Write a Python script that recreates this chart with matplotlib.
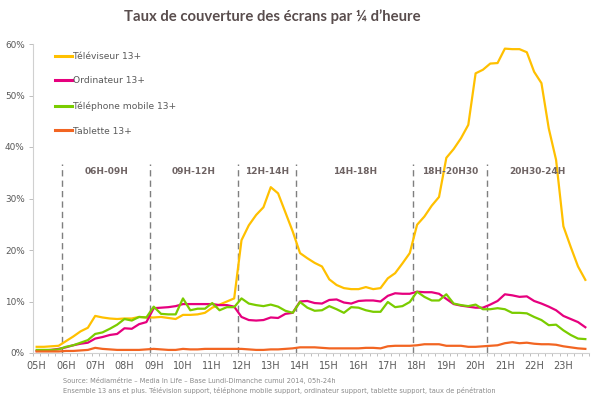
import numpy as np
import matplotlib
matplotlib.use("Agg")
import matplotlib.pyplot as plt
from matplotlib.ticker import FixedLocator, FuncFormatter

# ---------------- data ----------------
hour_labels = ["05H", "06H", "07H", "08H", "09H", "10H", "11H", "12H", "13H",
               "14H", "15H", "16H", "17H", "18H", "19H", "20H", "21H", "22H", "23H"]
quarters = [f"{h:02d}:{m:02d}" for h in range(5, 24) for m in (0, 15, 30, 45)]

tv = [1.2, 1.2, 1.3, 1.4, 2.3, 3.2, 4.2, 4.9, 7.2, 6.9, 6.7, 6.6, 6.7, 6.7, 7.0, 6.9,
      6.9, 7.0, 6.8, 6.6, 7.4, 7.4, 7.5, 7.8, 8.8, 9.4, 10.0, 10.6, 21.9, 24.8, 26.8, 28.3,
      32.2, 31.0, 27.3, 23.6, 19.4, 18.4, 17.5, 16.8, 14.3, 13.2, 12.6, 12.4, 12.4, 12.8, 12.4, 12.6,
      14.5, 15.5, 17.4, 19.4, 24.9, 26.5, 28.6, 30.3, 37.9, 39.6, 41.7, 44.3, 54.3, 55.0, 56.2, 56.3,
      59.1, 59.0, 59.0, 58.4, 54.6, 52.4, 43.6, 37.5, 24.6, 20.6, 16.8, 14.2]
ordi = [0.4, 0.5, 0.6, 0.8, 1.1, 1.5, 1.8, 2.0, 2.8, 3.1, 3.5, 3.7, 4.8, 4.7, 5.6, 6.0,
        8.7, 8.8, 8.9, 9.1, 9.5, 9.5, 9.5, 9.5, 9.5, 9.3, 9.3, 9.0, 7.0, 6.4, 6.3, 6.4,
        6.9, 6.8, 7.6, 7.8, 10.0, 10.1, 9.7, 9.6, 10.3, 10.4, 9.8, 9.6, 10.1, 10.2, 10.2, 10.0,
        11.1, 11.6, 11.5, 11.5, 11.9, 11.8, 11.8, 11.5, 10.5, 9.5, 9.2, 9.0, 8.8, 8.8, 9.4, 10.1,
        11.4, 11.2, 10.9, 11.0, 10.1, 9.6, 9.0, 8.3, 7.2, 6.6, 6.0, 5.0]
mobile = [0.6, 0.6, 0.6, 0.7, 1.2, 1.5, 2.0, 2.5, 3.7, 4.0, 4.7, 5.5, 6.6, 6.3, 7.0, 6.9,
          9.0, 7.6, 7.5, 7.5, 10.6, 8.3, 8.6, 8.6, 9.7, 8.3, 8.9, 8.9, 10.6, 9.6, 9.3, 9.1,
          9.4, 9.0, 8.2, 7.8, 9.9, 8.8, 8.2, 8.3, 9.1, 8.5, 7.8, 8.9, 8.8, 8.3, 8.0, 8.0,
          9.9, 8.9, 9.1, 9.9, 11.9, 10.9, 10.2, 10.2, 11.4, 9.6, 9.3, 9.1, 9.4, 8.5, 8.5, 8.7,
          8.5, 7.8, 7.8, 7.7, 7.0, 6.4, 5.4, 5.5, 4.4, 3.5, 2.8, 2.7]
tablette = [0.3, 0.3, 0.3, 0.3, 0.4, 0.4, 0.5, 0.6, 1.0, 0.8, 0.7, 0.6, 0.6, 0.6, 0.6, 0.7,
            0.8, 0.7, 0.6, 0.6, 0.8, 0.7, 0.7, 0.8, 0.8, 0.8, 0.8, 0.8, 0.8, 0.7, 0.6, 0.6,
            0.7, 0.7, 0.8, 0.9, 1.1, 1.1, 1.1, 1.0, 0.9, 0.9, 0.9, 0.9, 0.9, 1.0, 1.0, 0.9,
            1.3, 1.4, 1.4, 1.4, 1.5, 1.7, 1.7, 1.7, 1.4, 1.4, 1.4, 1.2, 1.2, 1.3, 1.4, 1.5,
            1.9, 2.1, 1.9, 2.0, 1.8, 1.7, 1.7, 1.6, 1.3, 1.1, 0.9, 0.8]

series_names = ["Téléviseur 13+", "Ordinateur 13+", "Téléphone mobile 13+", "Tablette 13+"]
series_colors = ["#FFC000", "#E6007E", "#7ACC00", "#F26522"]

period_labels = ["06H-09H", "09H-12H", "12H-14H", "14H-18H", "18H-20H30", "20H30-24H"]
period_bounds_h = [6, 9, 12, 14, 18, 20.5, 24]

yticks = [0, 10, 20, 30, 40, 50, 60]

title = "Taux de couverture des écrans par ¼ d’heure"
source_lines = [
    "Source: Médiamétrie – Media In Life – Base Lundi-Dimanche cumul 2014, 05h-24h",
    "Ensemble 13 ans et plus. Télévision support, téléphone mobile support, ordinateur support, tablette support, taux de pénétration",
]

# ---------------- figure ----------------
fig = plt.figure(figsize=(5.95, 4.04), dpi=100)
ax = fig.add_axes([33/595, 1-353/404, 556/595, 309/404])

x = np.arange(len(quarters))
for vals, name, col in zip([tv, ordi, mobile, tablette], series_names, series_colors):
    ax.plot(x, vals, color=col, lw=1.6, label=name)

ax.set_xlim(-0.5, len(quarters) - 0.5)
ax.set_ylim(0, 60)

# period separators and labels
def h2i(h):
    return (h - 5) * 4 - 0.5

grey_dash = "#7F7F7F"
for b in period_bounds_h[:-1]:
    ax.plot([h2i(b), h2i(b)], [0, 36.7], color=grey_dash, lw=1.0,
            dashes=(4.5, 3), zorder=1)
for i, lab in enumerate(period_labels):
    xm = (h2i(period_bounds_h[i]) + h2i(period_bounds_h[i + 1])) / 2
    ax.text(xm, 35.3, lab, ha="center", va="center", fontsize=6.5,
            fontweight="bold", color="#6E6363")

# axes styling
for s in ["top", "right"]:
    ax.spines[s].set_visible(False)
for s in ["left", "bottom"]:
    ax.spines[s].set_color("#D0D0D0")
    ax.spines[s].set_linewidth(0.8)

ax.set_yticks(yticks)
ax.yaxis.set_major_formatter(FuncFormatter(lambda v, p: f"{int(v)}%"))
ax.tick_params(axis="y", length=3, width=0.7, color="#BFBFBF", labelsize=6.4,
               labelcolor="#595959", pad=3)

hour_pos = [quarters.index(f"{h[:2]}:00") for h in hour_labels]
ax.set_xticks(hour_pos)
ax.set_xticklabels(hour_labels)
ax.xaxis.set_minor_locator(FixedLocator(np.arange(-0.5, len(quarters), 1.0)))
ax.tick_params(axis="x", which="major", length=0, labelsize=7.0,
               labelcolor="#595959", pad=6)
ax.tick_params(axis="x", which="minor", length=2.5, width=0.7, color="#BFBFBF")

leg = ax.legend(loc="upper left", bbox_to_anchor=(0.040, 0.975), frameon=False,
                fontsize=6.6, handlelength=1.8, handletextpad=0.1,
                labelspacing=1.72, borderpad=0, borderaxespad=0)
for t in leg.get_texts():
    t.set_color("#595959")
for h in leg.get_lines():
    h.set_linewidth(2.2)

ttl = fig.text(272/595, 1 - 17/404, title, ha="center", va="center", fontsize=10.5,
               fontweight="bold", color="#594D4D", family=["Lato", "DejaVu Sans"])
# fit title width to ~297 px
fig.canvas.draw()
w = ttl.get_window_extent().width
ttl.set_fontsize(10.5 * 297.0 / w)

fig.text(63/595, 1 - 380/404, source_lines[0], ha="left", va="center",
         fontsize=4.8, color="#8A8A8A")
fig.text(63/595, 1 - 390.5/404, source_lines[1], ha="left", va="center",
         fontsize=4.8, color="#8A8A8A")

fig.savefig("out.png", dpi=100)
